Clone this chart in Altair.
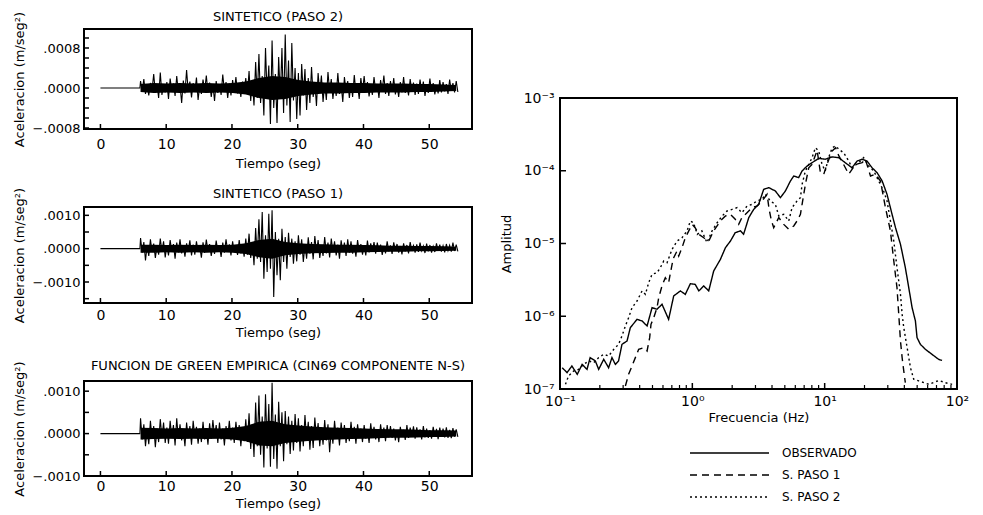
import altair as alt
import pandas as pd

FONT = "DejaVu Sans"

# ---------------- time series (acceleration, units of 1e-5 m/seg^2) ----------------
TIME_TICKS = [0, 10, 20, 30, 40, 50]
ONSET = 6.1      # seconds, first sample after the quiet pre-event segment
STEP = 0.25      # seconds between successive read peaks
CORE_STEP = 2.0  # seconds between read half-widths of the dense black core

PASO2 = [
    14, -6, 18, -12, 7, -15, 10, -4,
    28, -10, 8, -20, 31, -14, 6, -9,
    12, -22, 19, -5, 9, -16, 24, -8,
    6, -30, 15, -11, 36, -7, 13, -19,
    10, -8, 21, -24, 5, -12, 17, -6,
    25, -9, 11, -18, 7, -26, 14, -10,
    8, -14, 27, -6, 12, -20, 9, -15,
    16, -7, 22, -11, 6, -18, 13, -9,
    20, -12, 34, -26, 14, -35, 52, -20,
    68, -30, 24, -55, 80, -18, 45, -72,
    95, -40, 28, -70, 62, -22, 80, -50,
    107, -35, 55, -68, 90, -25, 40, -62,
    30, -55, 48, -15, 38, -44, 20, -30,
    42, -18, 12, -36, 30, -10, 25, -28,
    10, -24, 32, -8, 18, -22, 9, -16,
    30, -12, 8, -28, 22, -6, 14, -20,
    9, -18, 26, -10, 6, -22, 20, -8,
    24, -9, 12, -17, 7, -14, 22, -6,
    8, -20, 16, -5, 25, -12, 10, -16,
    14, -7, 20, -13, 6, -18, 12, -9,
    22, -10, 7, -15, 18, -6, 11, -14,
    9, -12, 17, -7, 13, -16, 6, -10,
    19, -8, 10, -13, 6, -11, 16, -9,
    12, -7, 8, -12, 17, -6, 10, -9,
    14, -8,
]
PASO2_CORE = [8, 10, 9, 10, 9, 10, 9, 10, 13, 20, 24, 22, 16, 13, 11, 11, 10, 10, 9, 9, 9, 8, 8, 7, 6]

PASO1 = [
    32, -12, 20, -35, 9, -22, 28, -10,
    15, -28, 8, -18, 30, -9, 22, -26,
    10, -20, 26, -8, 14, -30, 18, -11,
    28, -14, 9, -24, 16, -6, 25, -20,
    12, -18, 22, -9, 7, -27, 19, -13,
    27, -8, 14, -22, 10, -16, 24, -7,
    9, -25, 18, -12, 28, -8, 13, -20,
    22, -10, 8, -19, 26, -14, 11, -24,
    30, -18, 45, -28, 20, -50, 62, -30,
    88, -40, 110, -90, 40, -70, 105, -60,
    115, -145, 50, -80, 30, -95, 60, -40,
    35, -60, 48, -25, 30, -45, 22, -38,
    40, -18, 28, -40, 12, -30, 34, -15,
    20, -32, 38, -12, 26, -28, 10, -22,
    35, -14, 18, -26, 30, -9, 22, -20,
    12, -30, 25, -10, 18, -22, 28, -12,
    22, -15, 9, -24, 26, -8, 14, -18,
    8, -20, 24, -11, 16, -6, 20, -15,
    18, -9, 12, -19, 7, -14, 22, -8,
    10, -16, 19, -6, 14, -12, 8, -17,
    16, -8, 11, -14, 20, -7, 9, -12,
    13, -10, 18, -6, 8, -13, 15, -8,
    11, -12, 7, -10, 16, -6, 12, -9,
    9, -11, 14, -6, 10, -9, 18, -7,
    12, -8,
]
PASO1_CORE = [12, 12, 11, 12, 11, 12, 11, 12, 16, 26, 30, 20, 16, 14, 13, 12, 12, 11, 10, 9, 9, 8, 8, 7, 6]

GREEN = [
    36, -14, 22, -30, 10, -25, 30, -12,
    18, -32, 12, -20, 34, -10, 26, -22,
    14, -24, 30, -9, 20, -28, 36, -12,
    22, -16, 8, -30, 26, -11, 18, -26,
    30, -9, 16, -24, 12, -20, 28, -14,
    10, -26, 24, -12, 32, -8, 20, -22,
    26, -14, 12, -28, 18, -10, 30, -16,
    14, -22, 28, -9, 20, -30, 12, -18,
    34, -20, 48, -36, 22, -55, 73, -30,
    90, -50, 40, -80, 93, -35, 70, -78,
    120, -60, 45, -83, 75, -30, 50, -65,
    53, -25, 40, -48, 30, -40, 46, -22,
    36, -42, 20, -30, 44, -15, 28, -38,
    18, -34, 38, -12, 25, -30, 14, -26,
    32, -16, 22, -44, 12, -24, 30, -10,
    14, -28, 26, -12, 20, -22, 10, -18,
    28, -10, 16, -24, 22, -8, 12, -20,
    20, -12, 9, -22, 24, -10, 16, -14,
    10, -20, 22, -8, 14, -18, 20, -9,
    18, -10, 12, -16, 8, -20, 16, -8,
    9, -15, 20, -10, 14, -7, 17, -12,
    15, -8, 10, -14, 18, -9, 12, -10,
    8, -12, 16, -7, 11, -13, 14, -8,
    12, -9, 15, -10, 9, -11, 13, -7,
    10, -8,
]
GREEN_CORE = [14, 13, 12, 13, 12, 13, 12, 14, 18, 28, 30, 22, 19, 17, 15, 14, 13, 12, 11, 10, 10, 9, 8, 8, 7]

P2_YLABELS = [-0.0008, -0.0004, 0.0, 0.0004, 0.0008]
P2_YTICKS = [-0.0008, -0.0006, -0.0004, -0.0002, 0.0, 0.0002, 0.0004, 0.0006, 0.0008, 0.0010]
P1_YLABELS = [-0.0010, 0.0, 0.0010]
P1_YTICKS = [-0.0015, -0.0010, -0.0005, 0.0, 0.0005, 0.0010]
GR_YLABELS = [-0.0010, -0.0005, 0.0, 0.0005, 0.0010]
GR_YTICKS = [-0.0010, -0.0005, 0.0, 0.0005, 0.0010]

# ---------------- Fourier spectra (frequency Hz, amplitude) ----------------
SERIES = ["OBSERVADO", "S. PASO 1", "S. PASO 2"]

OBS_SPEC = [
    (0.104, 1.96e-7), (0.113, 1.68e-7), (0.123, 2.07e-7), (0.135, 1.59e-7), (0.147, 2.18e-7),
    (0.160, 1.86e-7), (0.169, 2.70e-7), (0.185, 2.43e-7), (0.196, 1.86e-7), (0.214, 2.56e-7),
    (0.233, 1.96e-7), (0.247, 2.70e-7), (0.262, 2.18e-7), (0.277, 2.43e-7), (0.294, 4.11e-7),
    (0.321, 4.57e-7), (0.340, 6.97e-7), (0.382, 9.07e-7), (0.417, 8.61e-7), (0.455, 7.35e-7),
    (0.496, 1.31e-6), (0.541, 1.25e-6), (0.590, 1.46e-6), (0.662, 9.07e-7), (0.723, 1.90e-6),
    (0.812, 2.23e-6), (0.885, 2.00e-6), (0.966, 2.80e-6), (1.05, 2.75e-6), (1.12, 2.23e-6),
    (1.22, 2.61e-6), (1.33, 2.23e-6), (1.45, 4.19e-6), (1.63, 6.06e-6), (1.78, 8.77e-6),
    (1.94, 1.08e-5), (2.11, 1.41e-5), (2.31, 1.49e-5), (2.44, 1.34e-5), (2.67, 2.27e-5),
    (2.91, 2.95e-5), (3.17, 3.45e-5), (3.46, 5.55e-5), (3.78, 5.86e-5), (4.24, 5.27e-5),
    (4.63, 4.27e-5), (5.05, 5.27e-5), (5.51, 7.23e-5), (5.84, 8.47e-5), (6.36, 8.04e-5),
    (6.75, 9.93e-5), (7.36, 1.16e-4), (8.03, 1.29e-4), (9.02, 1.48e-4), (10.1, 1.44e-4),
    (11.4, 1.55e-4), (12.8, 1.51e-4), (14.3, 1.29e-4), (16.1, 1.10e-4), (17.6, 1.36e-4),
    (19.2, 1.44e-4), (20.9, 1.36e-4), (22.8, 1.10e-4), (24.9, 9.41e-5), (27.2, 7.23e-5),
    (29.6, 4.74e-5), (32.3, 2.52e-5), (34.3, 1.65e-5), (37.4, 9.75e-6), (40.7, 4.66e-6),
    (43.2, 2.47e-6), (45.8, 1.31e-6), (48.5, 8.61e-7), (49.9, 5.08e-7), (52.9, 4.11e-7),
    (57.7, 3.51e-7), (64.8, 2.99e-7), (72.8, 2.55e-7), (77.1, 2.47e-7),
]

PASO1_SPEC = [
    (0.312, 1.10e-7), (0.330, 1.59e-7), (0.350, 2.07e-7), (0.371, 2.70e-7), (0.393, 3.51e-7),
    (0.429, 3.70e-7), (0.455, 3.33e-7), (0.476, 5.08e-7), (0.487, 7.74e-7), (0.511, 9.57e-7),
    (0.541, 1.31e-6), (0.557, 1.80e-6), (0.590, 2.61e-6), (0.625, 3.39e-6), (0.662, 2.90e-6),
    (0.703, 5.18e-6), (0.723, 6.38e-6), (0.766, 7.88e-6), (0.789, 6.73e-6), (0.836, 8.77e-6),
    (0.885, 1.20e-5), (0.940, 1.49e-5), (1.00, 1.83e-5), (1.05, 1.65e-5), (1.12, 1.34e-5),
    (1.22, 1.20e-5), (1.33, 1.08e-5), (1.45, 1.49e-5), (1.63, 2.04e-5), (1.78, 2.39e-5),
    (1.94, 2.52e-5), (2.11, 2.15e-5), (2.24, 1.83e-5), (2.37, 2.27e-5), (2.59, 2.65e-5),
    (2.83, 3.11e-5), (3.08, 3.27e-5), (3.37, 3.84e-5), (3.67, 4.74e-5), (3.80, 3.00e-5),
    (3.95, 2.10e-5), (4.12, 1.65e-5), (4.50, 2.27e-5), (4.91, 1.83e-5), (5.35, 1.57e-5),
    (5.84, 1.74e-5), (6.18, 2.04e-5), (6.56, 2.52e-5), (6.75, 3.45e-5), (7.15, 6.50e-5),
    (7.58, 1.10e-4), (8.03, 1.22e-4), (8.77, 1.90e-4), (9.29, 9.41e-5), (9.84, 8.93e-5),
    (10.4, 1.22e-4), (11.4, 1.87e-4), (12.1, 2.07e-4), (12.8, 1.60e-4), (13.9, 1.22e-4),
    (15.2, 9.00e-5), (17.1, 1.22e-4), (19.2, 1.29e-4), (20.3, 1.44e-4), (22.2, 8.47e-5),
    (24.2, 8.93e-5), (26.4, 7.23e-5), (28.8, 3.11e-5), (31.4, 1.49e-5), (33.3, 5.74e-6),
    (35.2, 2.47e-6), (36.3, 1.06e-6), (37.4, 4.57e-7), (38.5, 2.69e-7), (39.6, 1.77e-7),
    (40.7, 1.22e-7),
]

PASO2_SPEC = [
    (0.110, 1.16e-7), (0.116, 1.51e-7), (0.127, 1.77e-7), (0.138, 1.86e-7), (0.151, 2.18e-7),
    (0.165, 2.43e-7), (0.180, 2.30e-7), (0.196, 2.70e-7), (0.214, 3.00e-7), (0.233, 2.84e-7),
    (0.255, 3.51e-7), (0.277, 4.11e-7), (0.294, 5.36e-7), (0.312, 7.35e-7), (0.330, 9.57e-7),
    (0.350, 1.31e-6), (0.382, 1.62e-6), (0.417, 2.23e-6), (0.442, 2.00e-6), (0.468, 2.90e-6),
    (0.496, 3.77e-6), (0.541, 3.97e-6), (0.573, 4.66e-6), (0.608, 5.74e-6), (0.644, 5.45e-6),
    (0.703, 8.32e-6), (0.766, 1.08e-5), (0.836, 1.20e-5), (0.912, 1.49e-5), (0.966, 2.04e-5),
    (1.02, 1.93e-5), (1.09, 1.34e-5), (1.18, 1.49e-5), (1.29, 1.03e-5), (1.41, 1.49e-5),
    (1.54, 1.93e-5), (1.68, 2.39e-5), (1.83, 2.80e-5), (2.00, 2.95e-5), (2.18, 3.11e-5),
    (2.37, 2.65e-5), (2.59, 3.27e-5), (2.83, 3.45e-5), (3.08, 3.84e-5), (3.37, 4.04e-5),
    (3.56, 4.74e-5), (3.89, 3.84e-5), (4.24, 3.45e-5), (4.50, 2.39e-5), (4.91, 2.52e-5),
    (5.35, 2.04e-5), (5.67, 3.11e-5), (6.18, 3.84e-5), (6.56, 4.27e-5), (6.75, 6.50e-5),
    (7.15, 9.93e-5), (7.58, 1.22e-4), (8.03, 1.51e-4), (8.51, 2.07e-4), (9.02, 1.87e-4),
    (9.56, 1.22e-4), (10.1, 9.93e-5), (10.7, 1.51e-4), (11.4, 2.07e-4), (12.1, 2.19e-4),
    (12.8, 1.97e-4), (13.9, 1.77e-4), (15.2, 1.36e-4), (16.1, 1.10e-4), (18.1, 1.29e-4),
    (19.7, 1.51e-4), (21.5, 1.16e-4), (23.5, 9.93e-5), (25.6, 7.23e-5), (27.9, 5.27e-5),
    (29.6, 3.84e-5), (31.4, 2.04e-5), (33.3, 1.08e-5), (35.2, 4.66e-6), (37.4, 2.00e-6),
    (38.5, 1.06e-6), (39.6, 6.97e-7), (42.0, 3.70e-7), (44.5, 1.96e-7), (47.1, 1.36e-7),
    (51.4, 1.29e-7), (61.2, 1.16e-7), (72.8, 1.31e-7), (81.8, 1.22e-7), (91.9, 1.16e-7),
]

SPEC_XMAJOR = [0.1, 1, 10, 100]
SPEC_XMINOR = [0.2, 0.3, 0.4, 0.5, 0.6, 0.7, 0.8, 0.9,
               2, 3, 4, 5, 6, 7, 8, 9,
               20, 30, 40, 50, 60, 70, 80, 90]
SPEC_YMAJOR = [1e-7, 1e-6, 1e-5, 1e-4, 1e-3]

# ---------------- layout constants ----------------
LW = 388          # width of the time-series panels
RW = 397          # width of the spectrum panel
RH = 291          # height of the spectrum panel
TICK_COLOR = "black"


def trace_frame(vals):
    t = [0.0, ONSET - 0.1]
    a = [0.0, 0.0]
    for i, v in enumerate(vals):
        t.append(ONSET + STEP * i)
        a.append(v * 1e-5)
    return pd.DataFrame({"t": t, "a": a})


def core_frame(core):
    t = [ONSET + CORE_STEP * i for i in range(len(core))]
    return pd.DataFrame({"t": t, "a": [-c * 1e-5 for c in core], "a2": [c * 1e-5 for c in core]})


def panel(title, vals, core, ydomain, ylabels, yticks, height, title_offset, label_pad, title_pad):
    xaxis = alt.Axis(values=TIME_TICKS, title="Tiempo (seg)", ticks=False, tickSize=0,
                     domain=False, grid=False, labelPadding=label_pad, titlePadding=title_pad,
                     labelFontSize=14, titleFontSize=13, labelFlush=False, format="d")
    yaxis = alt.Axis(values=ylabels, title="Aceleracion (m/seg²)", ticks=False, tickSize=0,
                     domain=False, grid=False, labelPadding=4, labelFontSize=13,
                     titleFontSize=13, titleX=-58, titleY=height / 2,
                     labelExpr="replace(format(datum.value, '.4f'), '0.', '.')")
    xenc = alt.X("t:Q", scale=alt.Scale(domain=[-2.5, 56.5], nice=False, zero=False), axis=xaxis)
    yenc = alt.Y("a:Q", scale=alt.Scale(domain=ydomain, nice=False, zero=False), axis=yaxis)
    line = alt.Chart(trace_frame(vals)).mark_line(color="black", strokeWidth=1.1).encode(x=xenc, y=yenc)
    band = alt.Chart(core_frame(core)).mark_area(color="black", opacity=1).encode(
        x=xenc, y=yenc, y2="a2:Q")
    xt = alt.Chart(pd.DataFrame({"t": TIME_TICKS})).mark_rule(color=TICK_COLOR, strokeWidth=1.5).encode(
        x=alt.X("t:Q"), y=alt.value(height), y2=alt.value(height - 5)
    )
    yt = alt.Chart(pd.DataFrame({"a": yticks})).mark_rule(color=TICK_COLOR, strokeWidth=1.5).encode(
        y=alt.Y("a:Q"), x=alt.value(0), x2=alt.value(5)
    )
    return alt.layer(line, band, xt, yt).properties(
        width=LW, height=height,
        title=alt.TitleParams(title, fontSize=13, font=FONT, fontWeight="normal",
                              offset=title_offset, anchor="middle", frame="group"),
    )


p_top = panel("SINTETICO (PASO 2)", PASO2, PASO2_CORE, [-0.00082, 0.00118], P2_YLABELS, P2_YTICKS,
              100, -13, 8, 6)
p_mid = panel("SINTETICO (PASO 1)", PASO1, PASO1_CORE, [-0.00163, 0.00125], P1_YLABELS, P1_YTICKS,
              96, -14, 5, 4)
p_bot = panel("FUNCION DE GREEN EMPIRICA (CIN69 COMPONENTE N-S)", GREEN, GREEN_CORE,
              [-0.00100, 0.00124], GR_YLABELS, GR_YTICKS, 95, -12, 3, 4)

left = alt.vconcat(p_top, p_mid, p_bot, spacing=78, bounds="flush")

# ---------------- spectrum ----------------
rows = []
for name, pts in zip(SERIES, [OBS_SPEC, PASO1_SPEC, PASO2_SPEC]):
    for f, a in pts:
        rows.append({"serie": name, "f": f, "amp": a})
spec_df = pd.DataFrame(rows)

dash = alt.StrokeDash("serie:N", scale=alt.Scale(domain=SERIES, range=[[1, 0], [7, 5], [2, 3]]), legend=None)

xlab = ("datum.value < 0.5 ? '10⁻¹' : datum.value < 5 ? '10⁰' : "
        "datum.value < 50 ? '10¹' : '10²'")
ylab = ("datum.value > 5e-4 ? '10⁻³' : datum.value > 5e-5 ? '10⁻⁴' : "
        "datum.value > 5e-6 ? '10⁻⁵' : datum.value > 5e-7 ? '10⁻⁶' : '10⁻⁷'")

spec_lines = alt.Chart(spec_df).mark_line(color="black", strokeWidth=1.4).encode(
    x=alt.X("f:Q", scale=alt.Scale(type="log", domain=[0.1, 100], nice=False),
            axis=alt.Axis(values=SPEC_XMAJOR, labelExpr=xlab, title="Frecuencia (Hz)", ticks=False,
                          tickSize=0, domain=False, grid=False, labelPadding=5, titlePadding=3,
                          labelFontSize=14, titleFontSize=13, labelFlush=False)),
    y=alt.Y("amp:Q", scale=alt.Scale(type="log", domain=[1e-7, 1e-3], nice=False),
            axis=alt.Axis(values=SPEC_YMAJOR, labelExpr=ylab, title="Amplitud", ticks=False,
                          tickSize=0, domain=False, grid=False, labelPadding=6, labelFontSize=14,
                          titleFontSize=13, titleX=-47, titleY=RH / 2)),
    strokeDash=dash,
    detail="serie:N",
)
sx_major = alt.Chart(pd.DataFrame({"f": SPEC_XMAJOR})).mark_rule(color=TICK_COLOR, strokeWidth=1.5).encode(
    x=alt.X("f:Q"), y=alt.value(RH), y2=alt.value(RH - 6))
sx_minor = alt.Chart(pd.DataFrame({"f": SPEC_XMINOR})).mark_rule(color=TICK_COLOR, strokeWidth=1.2).encode(
    x=alt.X("f:Q"), y=alt.value(RH), y2=alt.value(RH - 4))
sy_major = alt.Chart(pd.DataFrame({"amp": SPEC_YMAJOR})).mark_rule(color=TICK_COLOR, strokeWidth=1.5).encode(
    y=alt.Y("amp:Q"), x=alt.value(0), x2=alt.value(6))

spectrum = alt.layer(spec_lines, sx_major, sx_minor, sy_major).properties(width=RW, height=RH)

# ---------------- legend (drawn as a small chart) ----------------
leg_df = pd.DataFrame({"serie": SERIES})
leg_y = alt.Y("serie:N", scale=alt.Scale(type="point", domain=SERIES, range=[0, 44], padding=0), axis=None)
leg_rules = alt.Chart(leg_df).mark_rule(color="black", strokeWidth=1.4).encode(
    y=leg_y, x=alt.value(130), x2=alt.value(209), strokeDash=dash)
leg_text = alt.Chart(leg_df).mark_text(align="left", baseline="middle", font=FONT, fontSize=12,
                                       color="black").encode(
    y=leg_y, x=alt.value(222), text="serie:N")
legend = alt.layer(leg_rules, leg_text).properties(
    width=RW, height=44, view=alt.ViewBackground(stroke="transparent"))

spacer = alt.Chart(pd.DataFrame({"v": [0]})).mark_point(opacity=0, size=0).encode(
    x=alt.value(5), y=alt.value(2)).properties(
    width=RW, height=5, view=alt.ViewBackground(stroke="transparent"))

right = alt.vconcat(spacer, spectrum, legend, spacing=64, bounds="flush")

chart = alt.hconcat(left, right, spacing=26).properties(
    padding={"left": 4, "top": 2, "right": 0, "bottom": 0}
).configure_view(
    stroke="black", strokeWidth=2
).configure_axis(
    labelFont=FONT, titleFont=FONT, labelColor="black", titleColor="black", titleFontWeight="normal"
).configure_title(
    font=FONT, color="black", fontWeight="normal"
)

chart.save("out.html", embed_options={"renderer": "svg", "actions": False})
